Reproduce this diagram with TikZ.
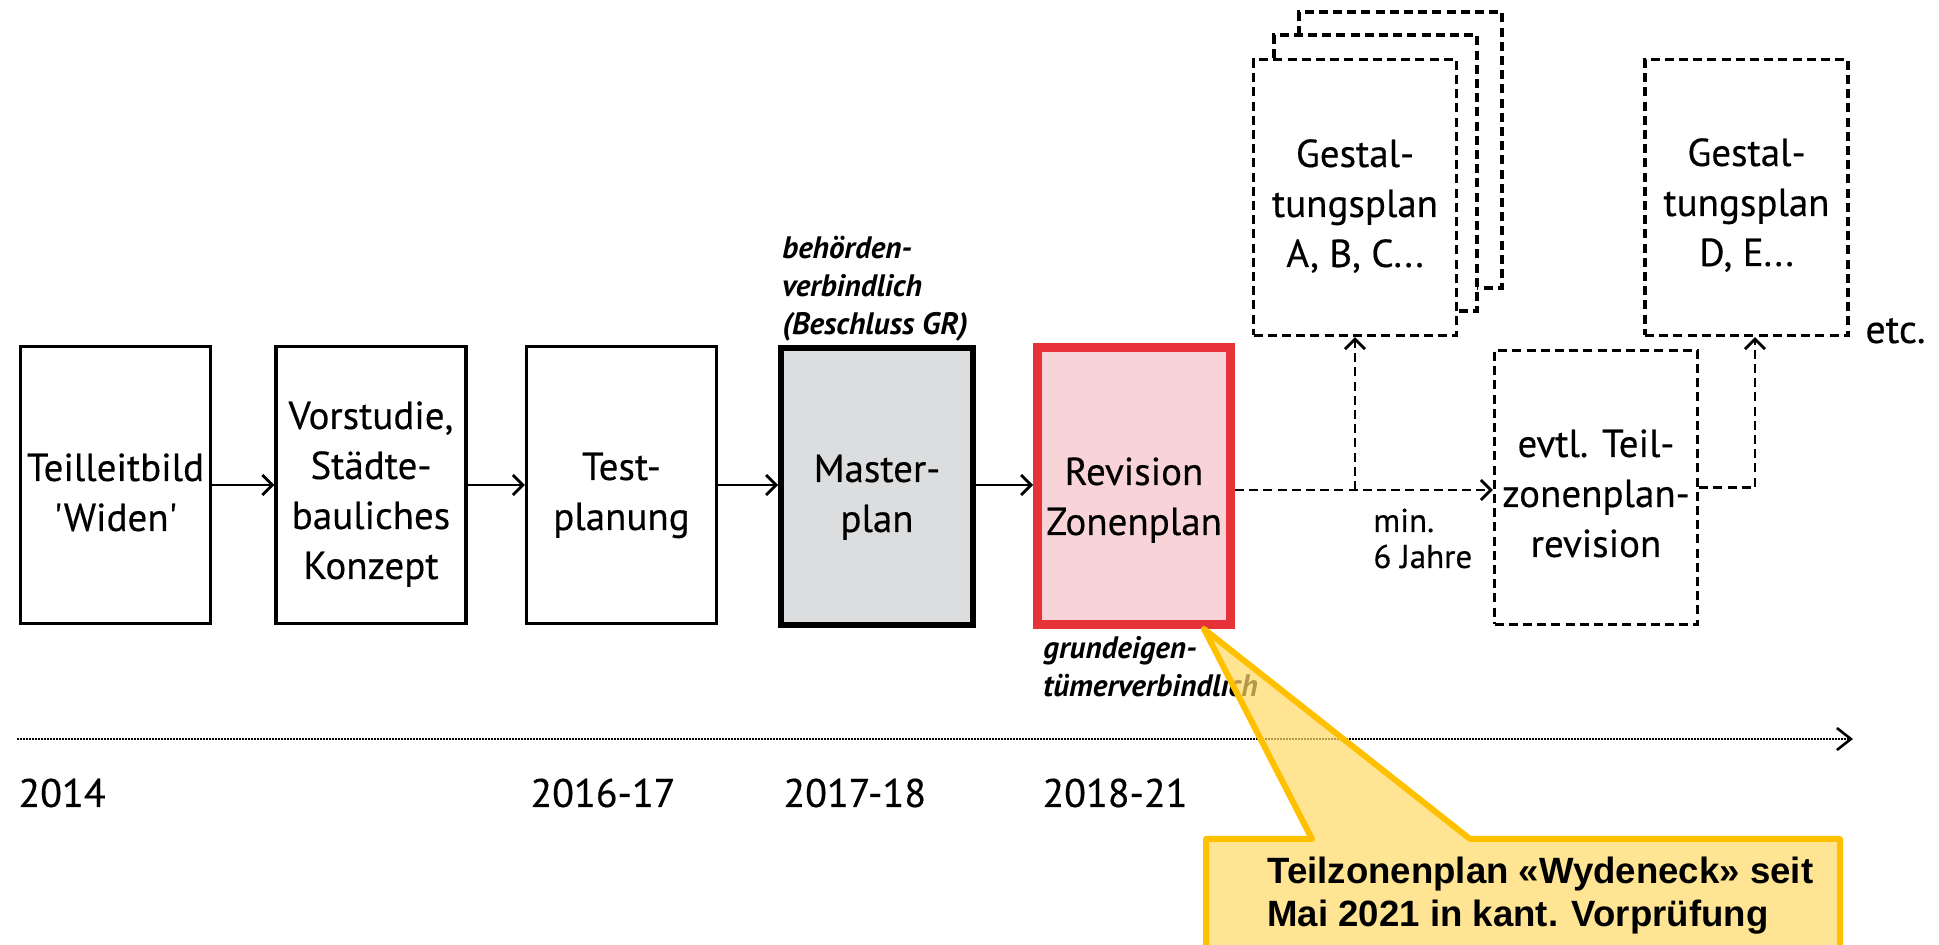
\documentclass[tikz,border=0pt]{standalone}
\usepackage{fontspec}
\setmainfont{PT Sans}[Ligatures=TeXOff]
\newfontfamily\medfont{PT Sans}[Ligatures=TeXOff,FakeBold=0.35]
\newfontfamily\callfont{Liberation Sans}
\usetikzlibrary{arrows.meta,calc}
\definecolor{mgray}{HTML}{DCDDDF}
\definecolor{rpink}{HTML}{F8D4D8}
\definecolor{rred}{HTML}{E8323A}
\definecolor{cyelb}{HTML}{FFC000}
\definecolor{cyelf}{HTML}{FFD966}
\newcommand{\boxtxt}[1]{\parbox[t]{130pt}{\centering\medfont\fontsize{19.5pt}{25pt}\selectfont #1}}
\begin{document}
\begin{tikzpicture}[x=0.5pt,y=-0.5pt,
  solidbox/.style={draw, line width=1.7pt, fill=white, inner sep=0pt, minimum width=95pt, minimum height=138.5pt},
  dashbox/.style={draw, line width=1.6pt, dash pattern=on 4.5pt off 2.6pt, fill=white, inner sep=0pt, minimum width=101.5pt, minimum height=138pt},
  txt/.style={inner sep=0pt, anchor=base},
  conn/.style={line width=1.4pt, -{Straight Barb[length=5pt,width=10pt]}},
  dconn/.style={conn, dash pattern=on 4.5pt off 2.6pt},
  note/.style={inner sep=0pt, anchor=base west, font=\fontsize{15.5pt}{19pt}\selectfont\bfseries\itshape},
  yearlbl/.style={inner sep=0pt, anchor=base west, font=\medfont\fontsize{20pt}{25pt}\selectfont},
]
\useasboundingbox (0,0) rectangle (1939,945);
\clip (0,0) rectangle (1939,945);

% main boxes
\node[solidbox] (b1) at (115.5,485) {};
\node[solidbox] (b2) at (371,485) {};
\node[solidbox] (b3) at (621.5,485) {};
\node[solidbox, fill=mgray, line width=3pt, minimum width=96pt] (mp) at (877,486.5) {};
\node[solidbox, fill=rpink, draw=rred, line width=4.5pt, minimum width=96.5pt] (rz) at (1134,486) {};

% dashed boxes
\node[dashbox] (abc3) at (1400.5,150) {};
\node[dashbox] (abc2) at (1375.5,173) {};
\node[dashbox] (abc) at (1355,197.5) {};
\node[dashbox] (de) at (1746.5,197.5) {};
\node[dashbox, minimum height=137pt] (ev) at (1596,487.5) {};

% box texts
\node[txt] (t1) at (115.5,481) {\boxtxt{Teilleitbild\\'Widen'}};
\node[txt] (t2) at (371,429) {\boxtxt{Vorstudie,\\Städte-\\bauliches\\Konzept}};
\node[txt] (t3) at (621.5,480) {\boxtxt{Test-\\planung}};
\node[txt] (tm) at (877,482) {\boxtxt{Master-\\plan}};
\node[txt] (tr) at (1134,485) {\boxtxt{Revision\\Zonenplan}};
\node[txt] (tabc) at (1355,167) {\boxtxt{Gestal-\\tungsplan\\A, B, C...}};
\node[txt] (tde) at (1746.5,166) {\boxtxt{Gestal-\\tungsplan\\D, E...}};
\node[txt] (tev) at (1596,457) {\boxtxt{evtl. Teil-\\zonenplan-\\revision}};

% notes
\node[note] (nb) at (782,259) {\parbox[t]{150pt}{behörden-\\verbindlich\\(Beschluss GR)}};
\node[note] (ng) at (1043,659) {\parbox[t]{150pt}{grundeigen-\\tümerverbindlich}};
\node[note, font=\medfont\fontsize{16.5pt}{18pt}\selectfont] (nmin) at (1373,532) {\parbox[t]{80pt}{min.\\6 Jahre}};
\node[yearlbl] (etc) at (1865,343) {etc.};

% connectors
\draw[conn] (b1.east) -- (b2.west);
\draw[conn] (b2.east) -- (b3.west);
\draw[conn] (b3.east) -- (b3.east -| mp.west);
\draw[conn] (b3.east -| mp.east) -- (b3.east -| rz.west);
\draw[dconn] ([yshift=-2pt]rz.east) -- ([yshift=-2pt]rz.east -| ev.west);
\draw[dconn] ([yshift=-2pt]rz.east -| abc.south) -- (abc.south);
\draw[dconn] (ev.east) -| ([xshift=4.25pt]de.south);

% timeline
\coordinate (tl0) at (17,739);
\coordinate (tl1) at (1853,739);
\draw[line width=1.1pt, dash pattern=on 1pt off 0.5pt, -{Straight Barb[length=7pt,width=11pt,line width=1.3pt]}] (tl0) -- (tl1);
\node[yearlbl] (y1) at (18,807) {2014};
\node[yearlbl] (y2) at (530,807) {2016-17};
\node[yearlbl] (y3) at (783,807) {2017-18};
\node[yearlbl] (y4) at (1042,807) {2018-21};

% callout
\coordinate (tip) at (1204,629);
\path[draw=cyelb, line width=3pt, fill=cyelf, fill opacity=0.7, line join=round]
  (1206,950) -- (1206,839) -- (1312,839) -- (tip) -- (1470,839) -- (1840,839) -- (1840,950) -- cycle;
\node[anchor=base west, inner sep=0pt] (ct) at (1267,884) {\parbox[t]{300pt}{\callfont\bfseries\fontsize{18.3pt}{21.5pt}\selectfont Teilzonenplan «Wydeneck» seit\\Mai 2021 in kant. Vorprüfung}};
\end{tikzpicture}
\end{document}
